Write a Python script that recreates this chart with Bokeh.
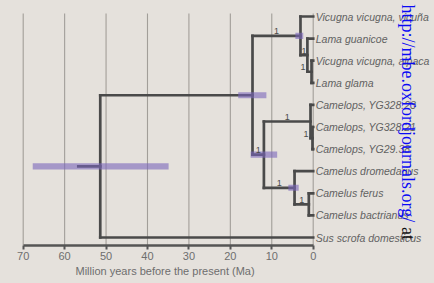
import math
from bokeh.plotting import figure
from bokeh.models import Range1d, FixedTicker, Label, Title, GlobalInlineStyleSheet
from bokeh.core.properties import value
from bokeh.embed import file_html
from bokeh.resources import INLINE

# ---------------- data ----------------
taxa = ["Vicugna vicugna, vicuña", "Lama guanicoe", "Vicugna vicugna, alpaca", "Lama glama",
        "Camelops, YG328.23", "Camelops, YG328.21", "Camelops, YG29.38",
        "Camelus dromedarius", "Camelus ferus", "Camelus bactrianus", "Sus scrofa domesticus"]
taxon_parent = ["lamini", "lama_a", "lama_b", "lama_b", "camelops", "camelops_b", "camelops_b",
                "camelus", "camelus_b", "camelus_b", "root"]

node_names = ["root", "camelidae", "lamini", "lama_a", "lama_b", "camelini", "camelops",
              "camelops_b", "camelus", "camelus_b"]
node_parent = [None, "root", "camelidae", "lamini", "lama_a", "camelidae", "camelini",
               "camelops", "camelini", "camelus"]
node_age = [51.4, 14.65, 3.07, 1.4, 0.4, 11.9, 0.65, 0.17, 4.5, 1.06]
node_hpd_low = [34.9, 11.3, 2.4, None, None, 8.7, None, None, 3.5, None]
node_hpd_high = [67.7, 18.1, 4.3, None, None, 15.1, None, None, 6.0, None]
node_posterior = [None, None, 1, 1, 1, 1, 1, 1, 1, 1]
root_stem_age = 56.7

axis_ticks = [0, 10, 20, 30, 40, 50, 60, 70]
axis_title = "Million years before the present (Ma)"
watermark = "http://mbe.oxfordjournals.org/"
watermark_tail = "at"

# ---------------- layout helpers ----------------
BG = "#e5e1dc"
LINE = "#4a4a4a"
W, H = 434, 283
PX_PER_LEAF = 22.1
FRAME_H = 245
y_top = -16 / PX_PER_LEAF
y_bot = y_top + FRAME_H / PX_PER_LEAF

age = dict(zip(node_names, node_age))
parent = dict(zip(node_names, node_parent))
ypos = {}


def child_ys(n):
    ys = [float(i) for i, pa in enumerate(taxon_parent) if pa == n]
    ys += [node_y(c) for c, pa in zip(node_names, node_parent) if pa == n]
    return ys


def node_y(n):
    if n not in ypos:
        ys = child_ys(n)
        ypos[n] = (min(ys) + max(ys)) / 2
    return ypos[n]


for n in node_names:
    node_y(n)

# segments
hx0, hx1, hy = [], [], []
for i, pa in enumerate(taxon_parent):
    hx0.append(age[pa]); hx1.append(0.0); hy.append(float(i))
for n in node_names:
    if parent[n] is not None:
        hx0.append(age[parent[n]]); hx1.append(age[n]); hy.append(ypos[n])
hx0.append(root_stem_age); hx1.append(age["root"]); hy.append(ypos["root"])

vx, vy0, vy1 = [], [], []
for n in node_names:
    ys = child_ys(n)
    vx.append(age[n]); vy0.append(min(ys)); vy1.append(max(ys))

p = figure(width=W, height=H, output_backend="svg", toolbar_location=None,
           x_range=Range1d(75.48, -29.28), y_range=Range1d(y_bot, y_top),
           y_axis_location=None, min_border_left=0, min_border_right=0,
           min_border_top=0, min_border_bottom=H - FRAME_H)
p.background_fill_color = BG
p.border_fill_color = BG
p.outline_line_color = None
p.xgrid.visible = False
p.ygrid.visible = False
p.stylesheets = [GlobalInlineStyleSheet(css="body { background-color: %s; }" % BG)]

# grid lines
p.segment(x0=axis_ticks, x1=axis_ticks, y0=[y_top + 13 / PX_PER_LEAF] * len(axis_ticks),
          y1=[y_bot] * len(axis_ticks), line_color="#a29e99", line_width=1.1)

# tree
p.segment(x0=hx0, x1=hx1, y0=hy, y1=hy, line_color=LINE, line_width=2.7, line_cap="square")
p.segment(x0=vx, x1=vx, y0=vy0, y1=vy1, line_color=LINE, line_width=2.7, line_cap="square")

# HPD bars
bx_l, bx_r, by = [], [], []
for n, lo, hi in zip(node_names, node_hpd_low, node_hpd_high):
    if lo is not None:
        bx_l.append(hi); bx_r.append(lo); by.append(ypos[n])
p.hbar(y=by, left=bx_l, right=bx_r, height=0.28, fill_color="#7a65ba", fill_alpha=0.6,
       line_color=None)

# posterior labels
for n, post in zip(node_names, node_posterior):
    if post is None:
        continue
    pa_age = age[parent[n]]
    if pa_age - age[n] > 1.0:
        lx, align, xo = (pa_age + age[n]) / 2, "center", 0
    else:
        lx, align, xo = pa_age, "right", -2
    p.text(x=[lx], y=[ypos[n]], text=[str(post)], text_align=align, text_baseline="bottom",
           x_offset=xo, y_offset=-1.5, text_font=value("Liberation Sans"),
           text_font_size="9px", text_color="#4a4a4a")

# tip labels
p.text(x=[0.0] * len(taxa), y=list(range(len(taxa))), text=taxa, x_offset=2.5,
       text_baseline="middle", text_font=value("Liberation Sans"), text_font_style="italic",
       text_font_size="10.5px", text_color="#626262")

# axis
ax = p.xaxis[0]
ax.ticker = FixedTicker(ticks=axis_ticks)
ax.bounds = (0, 70)
ax.axis_line_color = "#555555"
ax.axis_line_width = 2.5
ax.major_tick_line_color = "#555555"
ax.major_tick_line_width = 2
ax.major_tick_out = 4
ax.major_tick_in = 0
ax.minor_tick_line_color = None
ax.major_label_standoff = 2
ax.major_label_text_font = "Liberation Sans"
ax.major_label_text_font_size = "11px"
ax.major_label_text_color = "#6e6e6e"

p.add_layout(Title(text=axis_title, align="left", offset=75, text_font="Liberation Sans",
                   text_font_size="11px", text_font_style="normal", text_color="#6e6e6e",
                   standoff=0), "below")

# journal watermark (rotated, reads top to bottom), kept inside the plot area
WM_PX = 18
wm_start = y_top + 4 / PX_PER_LEAF
p.add_layout(Label(x=-23.0, y=wm_start, text=watermark, angle=-math.pi / 2,
                   text_align="left", text_baseline="middle", text_font="Liberation Serif",
                   text_font_size="%dpx" % WM_PX, text_color="#0a0af5"))
p.add_layout(Label(x=-23.0, y=wm_start + 12.36 * WM_PX / PX_PER_LEAF, text=watermark_tail,
                   angle=-math.pi / 2, text_align="left", text_baseline="middle",
                   text_font="Liberation Serif", text_font_size="%dpx" % WM_PX,
                   text_color="#111111"))

open("out.html", "w").write(file_html(p, INLINE))
